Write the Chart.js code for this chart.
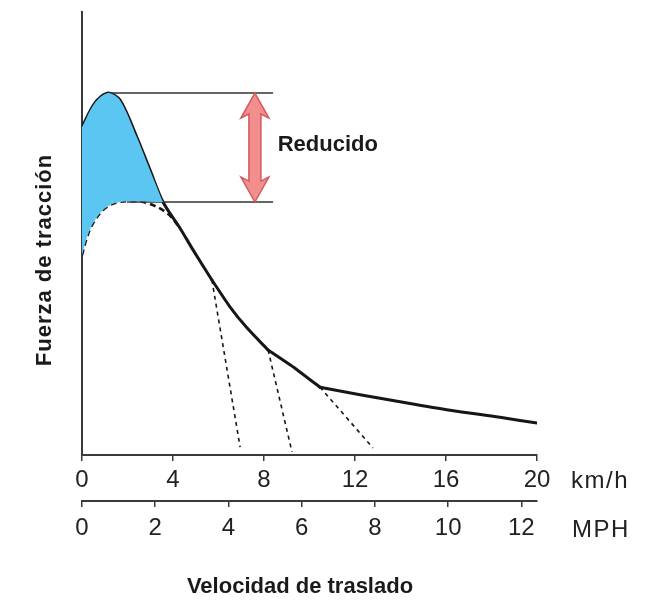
<!DOCTYPE html>
<html>
<head>
<meta charset="utf-8">
<script src="https://cdn.jsdelivr.net/npm/chart.js@4.4.1/dist/chart.umd.min.js"></script>
<style>
  html, body { margin: 0; padding: 0; background: #ffffff; }
  #wrap { width: 672px; height: 600px; }
</style>
</head>
<body>
<div id="wrap"><canvas id="c" width="672" height="600"></canvas></div>
<script>
// ---- data (x in km/h, y in relative traction-force units 0..100) ----
// full traction-force curve, split at the gear-change corners
const solidAX = [0, 0.57, 1.14, 1.67, 2.42, 2.99, 3.56, 4.31, 4.88, 5.71];
const solidAY = [74.0, 79.5, 81.7, 80.1, 71.6, 64.3, 57.1, 51.2, 46.3, 39.5];
const solidBX = [5.71, 6.51, 7.25, 8.18];
const solidBY = [39.5, 33.4, 28.7, 23.7];
const solidCX = [8.18, 9.36, 10.46];
const solidCY = [23.7, 19.6, 15.3];
const solidDX = [10.46, 12.22, 13.98, 16.18, 18.37, 20];
const solidDY = [15.3, 13.6, 12.0, 10.1, 8.5, 7.2];

// reduced traction-force curve (dashed)
const reducedX = [0, 0.18, 0.44, 0.92, 1.45, 2.11, 2.86, 3.74, 4.31];
const reducedY = [45.1, 48.5, 51.9, 55.3, 56.9, 57.3, 56.9, 54.6, 51.2];

// dashed drop-off lines from gear-change points
const branch1X = [5.71, 6.95];  const branch1Y = [39.5, 1.8];
const branch2X = [8.18, 9.23];  const branch2Y = [23.7, 0.7];
const branch3X = [10.46, 12.79]; const branch3Y = [15.3, 1.6];

// reference levels (peak of full curve, peak of reduced curve)
const upperLevelX = [1.14, 8.4];  const upperLevelY = [81.7, 81.7];
const lowerLevelX = [1.98, 8.4];  const lowerLevelY = [57.1, 57.1];

// shaded difference area: top = full curve, bottom = reduced curve / lower level
const shadeTopX = [0, 0.57, 1.14, 1.67, 2.42, 2.99, 3.56];
const shadeTopY = [74.0, 79.5, 81.7, 80.1, 71.6, 64.3, 57.1];
const shadeBotX = [3.56, 2.11, 1.45, 0.92, 0.44, 0.18, 0];
const shadeBotY = [57.1, 57.3, 56.9, 55.3, 51.9, 48.5, 45.1];

const kmhTicks = [0, 4, 8, 12, 16, 20];
const mphTicks = [0, 2, 4, 6, 8, 10, 12];
const KMH_PER_MPH = 1.609344;

const arrowX = 7.6;            // km/h position of the "Reducido" arrow
const labelPos = [8.6, 70];    // position of "Reducido" text

const zip = (xs, ys) => xs.map((x, i) => ({ x: x, y: ys[i] }));

const INK = '#161616';
const AXIS = '#3a3a3a';
const BLUE = '#5cc6f2';
const SANS = '"Liberation Sans", Arial, Helvetica, sans-serif';

const overlay = {
  id: 'overlay',
  afterDatasetsDraw(chart) {
    const { ctx, scales } = chart;
    const xs = scales.x, ys = scales.y;
    // red double arrow
    const ax = xs.getPixelForValue(arrowX);
    const yTop = ys.getPixelForValue(upperLevelY[0]);
    const yBot = ys.getPixelForValue(lowerLevelY[0]);
    const headW = 14, headL = 25, shaftW = 6;
    ctx.save();
    ctx.beginPath();
    ctx.moveTo(ax, yTop);
    ctx.lineTo(ax + headW, yTop + headL);
    ctx.lineTo(ax + shaftW, yTop + headL - 4);
    ctx.lineTo(ax + shaftW, yBot - headL + 4);
    ctx.lineTo(ax + headW, yBot - headL);
    ctx.lineTo(ax, yBot);
    ctx.lineTo(ax - headW, yBot - headL);
    ctx.lineTo(ax - shaftW, yBot - headL + 4);
    ctx.lineTo(ax - shaftW, yTop + headL - 4);
    ctx.lineTo(ax - headW, yTop + headL);
    ctx.closePath();
    ctx.fillStyle = '#f28e8e';
    ctx.fill();
    ctx.lineWidth = 1.5;
    ctx.strokeStyle = '#d45a5a';
    ctx.stroke();
    // label
    ctx.fillStyle = '#1a1a1a';
    ctx.font = 'bold 22px ' + SANS;
    ctx.textAlign = 'left';
    ctx.textBaseline = 'middle';
    ctx.fillText('Reducido', xs.getPixelForValue(labelPos[0]), ys.getPixelForValue(labelPos[1]));
    ctx.restore();
  },
  afterDraw(chart) {
    const { ctx, chartArea } = chart;
    ctx.save();
    ctx.fillStyle = '#222';
    ctx.font = '24px ' + SANS;
    ctx.textAlign = 'left';
    ctx.textBaseline = 'middle';
    try { ctx.letterSpacing = '1.5px'; } catch (e) {}
    ctx.fillText('km/h', chartArea.right + 34, 481);
    ctx.fillText('MPH', chartArea.right + 35, 530);
    try { ctx.letterSpacing = '0px'; } catch (e) {}
    ctx.fillStyle = '#1a1a1a';
    ctx.font = 'bold 22px ' + SANS;
    ctx.textAlign = 'center';
    ctx.fillText('Velocidad de traslado', 300, 587);
    ctx.translate(45, 260);
    ctx.rotate(-Math.PI / 2);
    try { ctx.letterSpacing = '1px'; } catch (e) {}
    ctx.fillText('Fuerza de tracción', 0, 0);
    ctx.restore();
  }
};

const lineDs = (data, opts) => Object.assign({
  data: data, showLine: true, pointRadius: 0, fill: false,
  borderColor: INK, borderWidth: 3, tension: 0.3, borderCapStyle: 'round', borderJoinStyle: 'round'
}, opts);

new Chart(document.getElementById('c'), {
  type: 'scatter',
  data: {
    datasets: [
      lineDs(zip(shadeTopX, shadeTopY).concat(zip(shadeBotX, shadeBotY)),
             { fill: 'shape', backgroundColor: BLUE, borderWidth: 0, borderColor: 'rgba(0,0,0,0)', tension: 0.3 }),
      lineDs(zip(upperLevelX, upperLevelY), { borderWidth: 1.6, borderColor: '#333', tension: 0, borderCapStyle: 'butt' }),
      lineDs(zip(lowerLevelX, lowerLevelY), { borderWidth: 1.6, borderColor: '#333', tension: 0, borderCapStyle: 'butt' }),
      lineDs(zip(reducedX, reducedY), { borderWidth: 2.6, borderDash: [6, 4], borderCapStyle: 'butt', tension: 0.35 }),
      lineDs(zip(branch1X, branch1Y), { borderWidth: 1.6, borderDash: [4, 4], borderCapStyle: 'butt', tension: 0 }),
      lineDs(zip(branch2X, branch2Y), { borderWidth: 1.6, borderDash: [4, 4], borderCapStyle: 'butt', tension: 0 }),
      lineDs(zip(branch3X, branch3Y), { borderWidth: 1.6, borderDash: [4, 4], borderCapStyle: 'butt', tension: 0 }),
      lineDs(zip(solidAX, solidAY), {}),
      lineDs(zip(solidBX, solidBY), {}),
      lineDs(zip(solidCX, solidCY), { tension: 0.1 }),
      lineDs(zip(solidDX, solidDY), {})
    ]
  },
  options: {
    responsive: false,
    animation: false,
    events: [],
    layout: { padding: { top: 12, left: 72, right: 135, bottom: 49 } },
    plugins: { legend: { display: false }, tooltip: { enabled: false } },
    scales: {
      x: {
        type: 'linear', position: 'bottom', min: 0, max: 20, weight: 0,
        afterBuildTicks: (s) => { s.ticks = kmhTicks.map(v => ({ value: v })); },
        ticks: { color: '#222', font: { family: SANS, size: 24 }, padding: 5, maxRotation: 0 },
        grid: { drawOnChartArea: false, drawTicks: true, tickLength: 6, color: AXIS, lineWidth: 1.5 },
        border: { display: true, color: AXIS, width: 2 },
        afterFit: (s) => { s.height = 46; }
      },
      x2: {
        type: 'linear', position: 'bottom', min: 0, max: 20 / KMH_PER_MPH, weight: 1,
        afterBuildTicks: (s) => { s.ticks = mphTicks.map(v => ({ value: v })); },
        ticks: { color: '#222', font: { family: SANS, size: 24 }, padding: 7, maxRotation: 0 },
        grid: { drawOnChartArea: false, drawTicks: true, tickLength: 6, color: AXIS, lineWidth: 1.5 },
        border: { display: true, color: AXIS, width: 2 },
        afterFit: (s) => { s.height = 50; }
      },
      y: {
        type: 'linear', position: 'left', min: 0, max: 100,
        ticks: { display: false },
        grid: { display: false },
        border: { display: true, color: AXIS, width: 2 },
        afterFit: (s) => { s.width = 10; }
      }
    }
  },
  plugins: [overlay]
});
</script>
</body>
</html>
